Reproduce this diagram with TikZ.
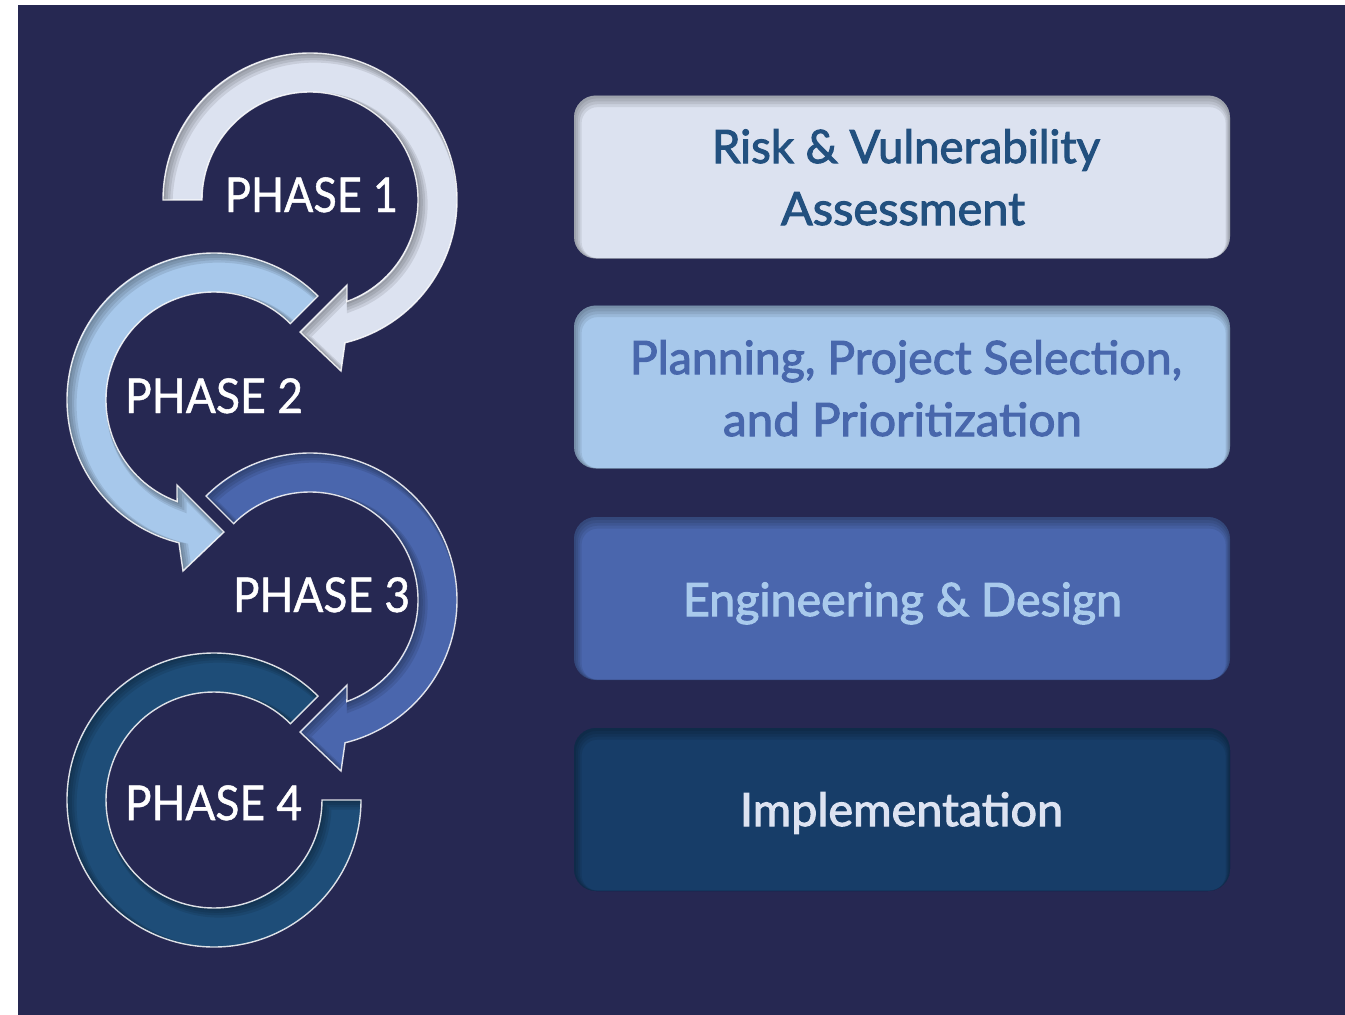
\documentclass[tikz,border=0pt]{standalone}
\usepackage{fontspec}
\setmainfont{Lato}
\newfontfamily\boxfont{Lato}[FakeBold=2.2]
\newfontfamily\phasefont{Lato}[FakeBold=1]
\usepackage{graphicx}
\definecolor{bgc}{HTML}{262852}
\definecolor{cA}{HTML}{DCE2F0}
\definecolor{cB}{HTML}{A7C8EB}
\definecolor{cC}{HTML}{4A66AD}
\definecolor{cD}{HTML}{1E4D78}
\definecolor{bD}{HTML}{173D68}
\definecolor{tA}{HTML}{22507F}
\definecolor{tB}{HTML}{4867AC}
\definecolor{tC}{HTML}{A9CAEC}
\definecolor{tD}{HTML}{DDE3F1}
\tikzset{
  phasetext/.style={anchor=base, inner sep=0pt, font=\phasefont\fontsize{48}{48}\selectfont},
  boxtext/.style={anchor=base, inner sep=0pt, font=\boxfont\fontsize{46}{46}\selectfont},
  stagebox/.style={rounded corners=22pt, minimum width=656pt, minimum height=163pt, inner sep=0pt, draw=none},
}
% ring drawing: \rp holds the path in local coordinates
\newcommand\RingDraw[2]{%
  \fill[#1, #2] \rp;
  \begin{scope}
    \clip[#1] \rp;
    \foreach \k in {1,...,4}{\draw[shift={(1.2*\k,-1.2*\k)}, #1, black, opacity=.09, line width=2.4*\k] \rp;}
  \end{scope}
  \draw[#1, white, opacity=.85, line width=1.4pt] \rp;}
\newcommand\ArrowRing[3]{%
  \def\rp{(#3:147) arc[start angle=#3,end angle=-76.2,radius=147] -- (31,-171) -- (-10,-132) -- (37,-85) -- (-70:108) arc[start angle=-70,end angle=#3,radius=108] -- cycle}%
  \RingDraw{#1}{#2}}
\newcommand\RingFour[2]{%
  \def\rp{(45:147) arc[start angle=45,end angle=360,radius=147] -- (0:108) arc[start angle=360,end angle=45,radius=108] -- cycle}%
  \RingDraw{#1}{#2}}
% stage boxes
\newcommand\StageBox[3]{%
  \node[stagebox, fill=#3] (#1) at (902,-#2) {};
  \begin{scope}
    \clip[rounded corners=22pt] (574,-#2+81.5) rectangle (1230,-#2-81.5);
    \foreach \k in {1,...,4}{\draw[black, opacity=.08, line width=3*\k, rounded corners=22pt] (574+0.4*\k,-#2+81.5-1.4*\k) rectangle (1230+0.4*\k,-#2-81.5-1.4*\k);}
  \end{scope}}
% text fitted to the reference width
\newcommand\FitText[7]{%
  \node[#6, text=#4] (#1) at (#2,-#3) {\resizebox{#5pt}{\height}{#7}};}
\begin{document}
\begin{tikzpicture}[x=1pt, y=1pt]
\useasboundingbox (0,0) rectangle (1345,-1015);
\fill[white] (0,0) rectangle (1345,-1015);
\fill[bgc] (18,-5) rectangle (1345,-1015);
% rings
\ArrowRing{shift={(310,-200)}}{cA}{180}
\ArrowRing{shift={(214,-400)},xscale=-1}{cB}{135}
\ArrowRing{shift={(310,-600)}}{cC}{135}
\RingFour{shift={(214,-800)}}{cD}
% phase labels
\FitText{p1}{311.5}{212}{white}{173}{phasetext}{PHASE 1}
\FitText{p2}{214}{413}{white}{178}{phasetext}{PHASE 2}
\FitText{p3}{321.5}{612}{white}{177}{phasetext}{PHASE 3}
\FitText{p4}{213.5}{820}{white}{177}{phasetext}{PHASE 4}
% boxes
\StageBox{b1}{177}{cA}
\StageBox{b2}{387}{cB}
\StageBox{b3}{598.5}{cC}
\StageBox{b4}{809.5}{bD}
\FitText{t1a}{906}{163}{tA}{388}{boxtext}{Risk \& Vulnerability}
\FitText{t1b}{903}{225}{tA}{244}{boxtext}{Assessment}
\FitText{t2a}{906}{374}{tB}{552}{boxtext}{Planning, Project Selection,}
\FitText{t2b}{902.5}{436}{tB}{359}{boxtext}{and Prioritization}
\FitText{t3}{902.5}{616}{tC}{439}{boxtext}{Engineering \& Design}
\FitText{t4}{901.5}{826}{tD}{323}{boxtext}{Implementation}
\end{tikzpicture}
\end{document}
